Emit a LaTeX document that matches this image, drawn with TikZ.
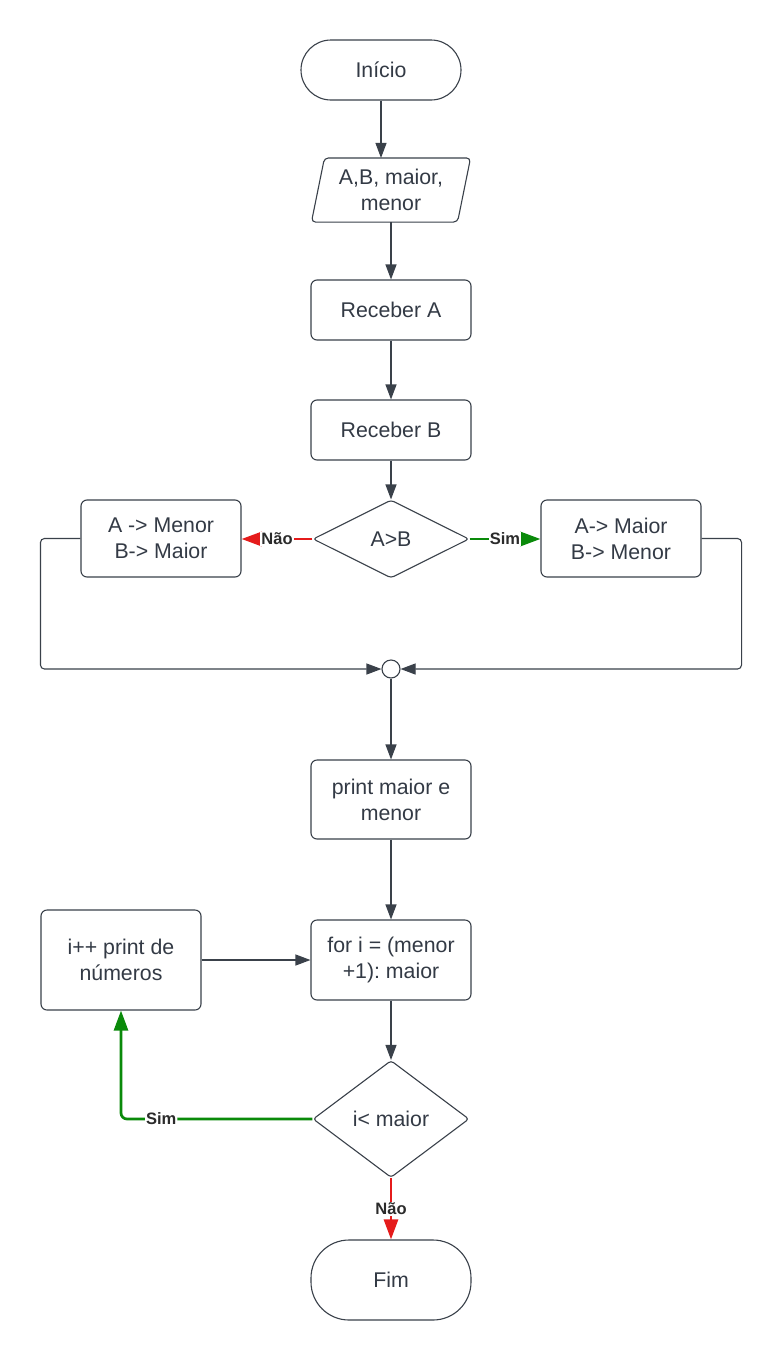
\documentclass[tikz,border=0pt]{standalone}
\usepackage{fontspec}
\setmainfont{Liberation Sans}
\usetikzlibrary{arrows.meta,shapes.geometric,calc}
\definecolor{ln}{HTML}{3A414A}
\definecolor{tx}{HTML}{333A45}
\definecolor{lb}{HTML}{2B2B2B}
\definecolor{rd}{HTML}{E51B1B}
\definecolor{gr}{HTML}{0A8A0A}
\frenchspacing
\begin{document}
\begin{tikzpicture}[x=1pt,y=-1pt,
  base/.style={draw=ln,line width=1.1pt,text=tx,align=center,font=\fontsize{21.3}{26}\selectfont,inner sep=0pt},
  proc/.style={base,rounded corners=6pt,minimum width=160pt},
  term/.style={base,minimum width=160pt},
  dec/.style={base,diamond,rounded corners=3pt,minimum width=156pt},
  conn/.style={ln,line width=1.1pt,-{Triangle[length=15pt,width=11pt]}},
  cconn/.style={line width=2.7pt,-{Triangle[length=20pt,width=14pt]}},
  lbl/.style={fill=white,font=\bfseries\fontsize{16.5}{18}\selectfont,text=lb,inner sep=1pt}]
\fill[white] (0,0) rectangle (782,1360);
\useasboundingbox (0,0) rectangle (782,1360);

\node[term,minimum height=60pt,rounded corners=30pt] (ini) at (381,70) {Início};
\node[base,draw=none,minimum width=158pt,minimum height=63pt] (io) at (391,190) {A,B, maior,\\menor};
\draw[ln,line width=1.1pt,rounded corners=4pt] ($(io.north west)+(13,0)$) -- (io.north east) -- ($(io.south east)-(13,0)$) -- (io.south west) -- cycle;
\node[proc,minimum height=60pt] (ra) at (391,310) {Receber A};
\node[proc,minimum height=60pt] (rb) at (391,430) {Receber B};
\node[dec,minimum height=78pt] (d1) at (391,539) {A>B};
\node[proc,minimum height=77pt] (l1) at (161,538.5) {A -> Menor\\B-> Maior};
\node[proc,minimum height=77pt] (r1) at (621,538.5) {A-> Maior\\B-> Menor};
\node[circle,draw=ln,line width=1.1pt,minimum size=18pt,inner sep=0pt] (j) at (391,669) {};
\node[proc,minimum height=79pt] (pr) at (391,799.5) {print maior e\\menor};
\node[proc,minimum height=80pt] (fr) at (391,960) {for i = (menor\\+1): maior};
\node[proc,minimum height=100pt] (ip) at (121,960) {i++ print de\\números};
\node[dec,minimum height=117pt] (d2) at (391,1119) {i< maior};
\node[term,minimum height=80pt,rounded corners=38pt] (fim) at (391,1280) {Fim};

\draw[conn] (ini.south) -- (ini.south |- io.north);
\draw[conn] (io.south) -- (ra.north);
\draw[conn] (ra) -- (rb);
\draw[conn] (rb) -- (d1);
\draw[cconn,rd] (d1.west) -- node[lbl]{Não} (l1.east |- d1.west);
\draw[cconn,gr] (d1.east) -- node[lbl]{Sim} (r1.west |- d1.east);
\draw[conn,rounded corners=4pt] (l1.west) -- ++(-40,0) |- (j.west);
\draw[conn,rounded corners=4pt] (r1.east) -- ++(40,0) |- (j.east);
\draw[conn] (j) -- (pr);
\draw[conn] (pr) -- (fr);
\draw[conn] (ip.east) -- (fr.west);
\draw[conn] (fr) -- (d2);
\draw[cconn,gr,rounded corners=6pt] (d2.west) -- node[lbl,pos=0.79]{Sim} (ip.south |- d2.west) -- (ip.south);
\draw[cconn,rd] (d2.south) -- node[lbl]{Não} (fim.north);
\end{tikzpicture}
\end{document}
